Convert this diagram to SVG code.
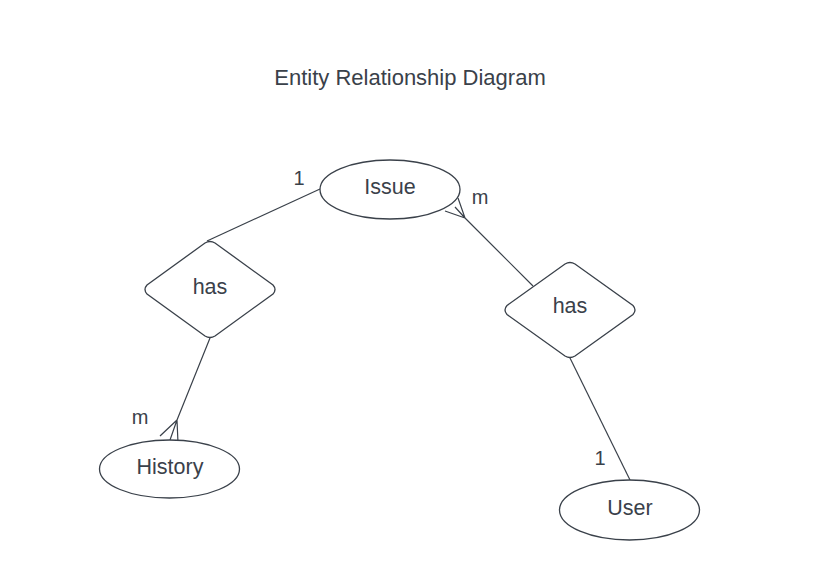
<svg xmlns="http://www.w3.org/2000/svg" width="820" height="580" viewBox="0 0 820 580">
<style>
.shape{fill:#ffffff;stroke:#3a414a;stroke-width:1.3}
.line{fill:none;stroke:#3a414a;stroke-width:1.2}
.t{font-family:"Liberation Sans","Noto Sans",Arial,sans-serif;fill:#3a414a;text-anchor:middle;dominant-baseline:central}
.lbl{font-size:20px}
.node{font-size:21.5px}
</style>
<rect width="820" height="580" fill="#ffffff"/>
<text class="t" x="410" y="77" font-size="22">Entity Relationship Diagram</text>
<g id="connectors">
  <path class="line" d="M320,189 L207,241"/>
  <path class="line" d="M533,286 L465,218 M465,218 L445,211 M465,218 L458,198 M465,218 L455,207"/>
  <path class="line" d="M210,338 L177,420 M177,420 L160,436 M177,420 L170,440 M177,420 L178,443"/>
  <path class="line" d="M570,358 L630,480"/>
</g>
<g id="labels">
  <text class="t lbl" x="299" y="178">1</text>
  <text class="t lbl" x="480" y="197">m</text>
  <text class="t lbl" x="140" y="417">m</text>
  <text class="t lbl" x="600" y="458">1</text>
</g>
<g id="issue">
  <ellipse class="shape" cx="390" cy="189.5" rx="70" ry="29.5"/>
  <text class="t node" x="390" y="187">Issue</text>
</g>
<g id="has-left">
  <path class="shape" d="M205,243 Q210,240 215,243 L273,285 Q277,289.5 273,294 L215,336 Q210,339 205,336 L147,294 Q143,289.5 147,285 Z"/>
  <text class="t node" x="210" y="287">has</text>
</g>
<g id="has-right">
  <path class="shape" d="M565,264 Q570,261 575,264 L633,305.5 Q637,310 633,314.5 L575,356 Q570,359 565,356 L507,314.5 Q503,310 507,305.5 Z"/>
  <text class="t node" x="570" y="306">has</text>
</g>
<g id="history">
  <ellipse class="shape" cx="169.5" cy="469" rx="70" ry="29"/>
  <text class="t node" x="170" y="467">History</text>
</g>
<g id="user">
  <ellipse class="shape" cx="629.5" cy="510" rx="70" ry="30"/>
  <text class="t node" x="630" y="508">User</text>
</g>
</svg>
